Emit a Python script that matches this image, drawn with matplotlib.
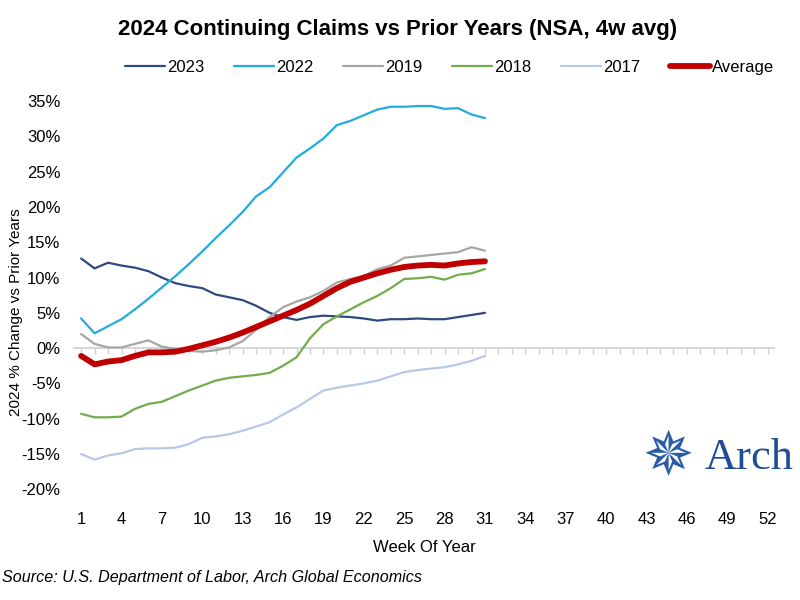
import numpy as np
import matplotlib.pyplot as plt

plt.rcParams['font.family'] = ['Liberation Sans', 'DejaVu Sans']

# Week of year and % change of 2024 continuing claims vs prior years
weeks = np.arange(1, 32)
y2023 = [12.7, 11.3, 12.1, 11.7, 11.4, 10.9, 10.0, 9.2, 8.8, 8.5, 7.6, 7.2, 6.8, 6.0, 5.0,
         4.4, 4.0, 4.4, 4.6, 4.5, 4.4, 4.2, 3.9, 4.1, 4.1, 4.2, 4.1, 4.1, 4.4, 4.7, 5.0]
y2022 = [4.2, 2.1, 3.1, 4.1, 5.5, 7.0, 8.6, 10.2, 11.9, 13.7, 15.6, 17.4, 19.3, 21.5, 22.8,
         24.9, 27.0, 28.3, 29.7, 31.6, 32.2, 33.0, 33.8, 34.2, 34.2, 34.3, 34.3, 33.9, 34.0, 33.1, 32.6]
y2019 = [2.0, 0.6, 0.1, 0.1, 0.6, 1.1, 0.2, -0.1, -0.4, -0.5, -0.3, 0.1, 1.0, 2.6, 4.4,
         5.8, 6.6, 7.2, 8.1, 9.3, 9.8, 10.2, 11.2, 11.7, 12.8, 13.0, 13.2, 13.4, 13.6, 14.3, 13.8]
y2018 = [-9.3, -9.8, -9.8, -9.7, -8.6, -7.9, -7.6, -6.8, -6.0, -5.3, -4.6, -4.2, -4.0, -3.8, -3.5,
         -2.5, -1.3, 1.4, 3.4, 4.5, 5.5, 6.5, 7.4, 8.5, 9.8, 9.9, 10.1, 9.7, 10.4, 10.6, 11.2]
y2017 = [-15.0, -15.8, -15.2, -14.9, -14.3, -14.2, -14.2, -14.1, -13.6, -12.7, -12.5, -12.2, -11.7, -11.1, -10.5,
         -9.4, -8.4, -7.2, -6.0, -5.6, -5.3, -5.0, -4.6, -4.0, -3.4, -3.1, -2.9, -2.7, -2.3, -1.8, -1.1]
average = [-1.1, -2.3, -1.9, -1.7, -1.1, -0.6, -0.6, -0.5, -0.1, 0.4, 0.9, 1.5, 2.2, 3.0, 3.8,
           4.6, 5.4, 6.3, 7.4, 8.5, 9.4, 10.0, 10.6, 11.1, 11.5, 11.7, 11.8, 11.7, 12.0, 12.2, 12.3]

series = [('2023', y2023, '#2F4A7F', 1.6),
          ('2022', y2022, '#1FADE0', 1.6),
          ('2019', y2019, '#A6A6A6', 1.6),
          ('2018', y2018, '#72AC4D', 1.6),
          ('2017', y2017, '#B7C9E6', 1.6),
          ('Average', average, '#C00000', 4.2)]

x_ticks = np.arange(1, 53, 3)
y_ticks = np.arange(-20, 36, 5)

fig = plt.figure(figsize=(8, 6), dpi=100)
ax = fig.add_axes([0.093, 0.1845, 0.875, 0.647])

for name, vals, color, lw in series:
    ax.plot(weeks, vals, color=color, lw=lw, label=name, solid_capstyle='round')

ax.set_xlim(0.5, 52.5)
ax.set_ylim(-20, 35)
for s in ax.spines.values():
    s.set_visible(False)

ax.set_yticks(y_ticks)
ax.set_yticklabels([f'{v}%' for v in y_ticks])
ax.set_xticks(x_ticks)
ax.tick_params(axis='both', length=0, labelsize=12, colors='#000000')
ax.tick_params(axis='y', pad=10)
ax.tick_params(axis='x', pad=16)

# zero line carrying weekly tick marks
zero = ax.secondary_xaxis(0, transform=ax.transData)
zero.set_xticks(np.arange(1, 53))
zero.set_xticklabels([])
zero.tick_params(length=4, color='#D0D0D0', width=1)
zero.spines['bottom'].set_color('#D0D0D0')
zero.spines['bottom'].set_linewidth(1.2)

ax.set_xlabel('Week Of Year', fontsize=12, labelpad=10)
ax.set_ylabel('2024 % Change vs Prior Years', fontsize=11)
ax.yaxis.set_label_coords(-0.074, 0.455)

fig.text(0.497, 0.95, '2024 Continuing Claims vs Prior Years (NSA, 4w avg)',
         ha='center', va='center', fontsize=16, fontweight='bold')

fig.legend(loc='center', bbox_to_anchor=(0.562, 0.888), ncol=6, frameon=False,
           fontsize=12, handlelength=2.4, handletextpad=0.15, columnspacing=1.75)

fig.text(0.003, 0.038, 'Source: U.S. Department of Labor, Arch Global Economics',
         ha='left', va='center', fontsize=11.6, style='italic')

# Arch logo
fig.text(0.835, 0.236, '\u2735', ha='center', va='center', fontsize=44,
         color='#2A5CA8', family=['DejaVu Sans'])
fig.text(0.937, 0.236, 'Arch', ha='center', va='center', fontsize=32,
         color='#1F4E96', family=['Liberation Serif', 'DejaVu Serif'])

fig.savefig('out.png', dpi=100)
